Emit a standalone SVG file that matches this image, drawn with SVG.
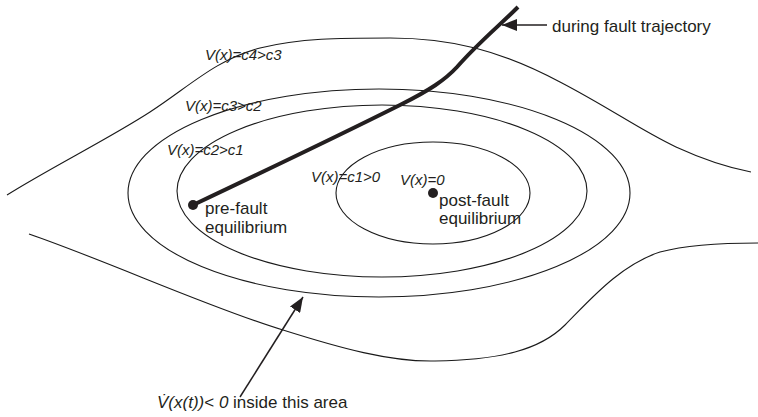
<svg xmlns="http://www.w3.org/2000/svg" width="758" height="417" viewBox="0 0 758 417">
<style>
.c{fill:none;stroke:#1a1a1a;stroke-width:1.1}
.lbl{font-family:"Liberation Sans",Arial,sans-serif;font-size:15px;font-style:italic;fill:#231f20}
.t{font-family:"Liberation Sans",Arial,sans-serif;font-size:17px;fill:#231f20}
</style>
<defs>
<marker id="ah" markerWidth="16" markerHeight="12" refX="15" refY="6" orient="auto" markerUnits="userSpaceOnUse">
<path d="M0,0 L15,6 L0,12 Z" fill="#231f20"/>
</marker>
</defs>
<rect width="758" height="417" fill="#fff"/>
<g id="contours">
<path class="c" d="M7,195 C50,168 110,138 150,112 C190,86 215,60 260,48 C300,38 340,38 390,38 C450,38 500,50 560,82 C610,108 640,130 676,147 C700,158 730,168 751,172"/>
<path class="c" d="M29,234 C110,262 210,308 283,330 C340,348 390,362 435,361 C500,360 540,350 565,325 C590,300 620,265 660,252 C690,244 730,243 758,243"/>
<ellipse class="c" cx="379" cy="193" rx="251" ry="104"/>
<ellipse class="c" cx="382" cy="191" rx="205" ry="86"/>
<ellipse class="c" cx="433" cy="193" rx="97" ry="51"/>
</g>
<g id="trajectory">
<path d="M193,205 C250,178 330,140 400,105 C430,90 445,80 457,67 C478,43 500,25 518,7" fill="none" stroke="#231f20" stroke-width="4"/>
</g>
<g id="pre-fault">
<circle cx="193" cy="205" r="5" fill="#231f20"/>
<text class="t" x="205" y="214">pre-fault</text>
<text class="t" x="205" y="233">equilibrium</text>
</g>
<g id="post-fault">
<circle cx="433" cy="193" r="5" fill="#231f20"/>
<text class="t" x="439" y="206">post-fault</text>
<text class="t" x="439" y="224">equilibrium</text>
</g>
<g id="labels">
<text class="lbl" x="205" y="60">V(x)=c4&gt;c3</text>
<text class="lbl" x="185" y="111">V(x)=c3&gt;c2</text>
<text class="lbl" x="167" y="155">V(x)=c2&gt;c1</text>
<text class="lbl" x="311" y="182">V(x)=c1&gt;0</text>
<text class="lbl" x="400" y="185">V(x)=0</text>
</g>
<g id="connectors">
<line x1="547" y1="25" x2="502" y2="25" stroke="#231f20" stroke-width="1.5" marker-end="url(#ah)"/>
<line x1="240" y1="397" x2="303" y2="297" stroke="#231f20" stroke-width="1.5" marker-end="url(#ah)"/>
</g>
<g id="annotations">
<text class="t" x="552" y="32">during fault trajectory</text>
<text class="t" x="157" y="408"><tspan font-style="italic">V̇(x(t))</tspan>&lt; <tspan font-style="italic">0</tspan> inside this area</text>
</g>
</svg>
